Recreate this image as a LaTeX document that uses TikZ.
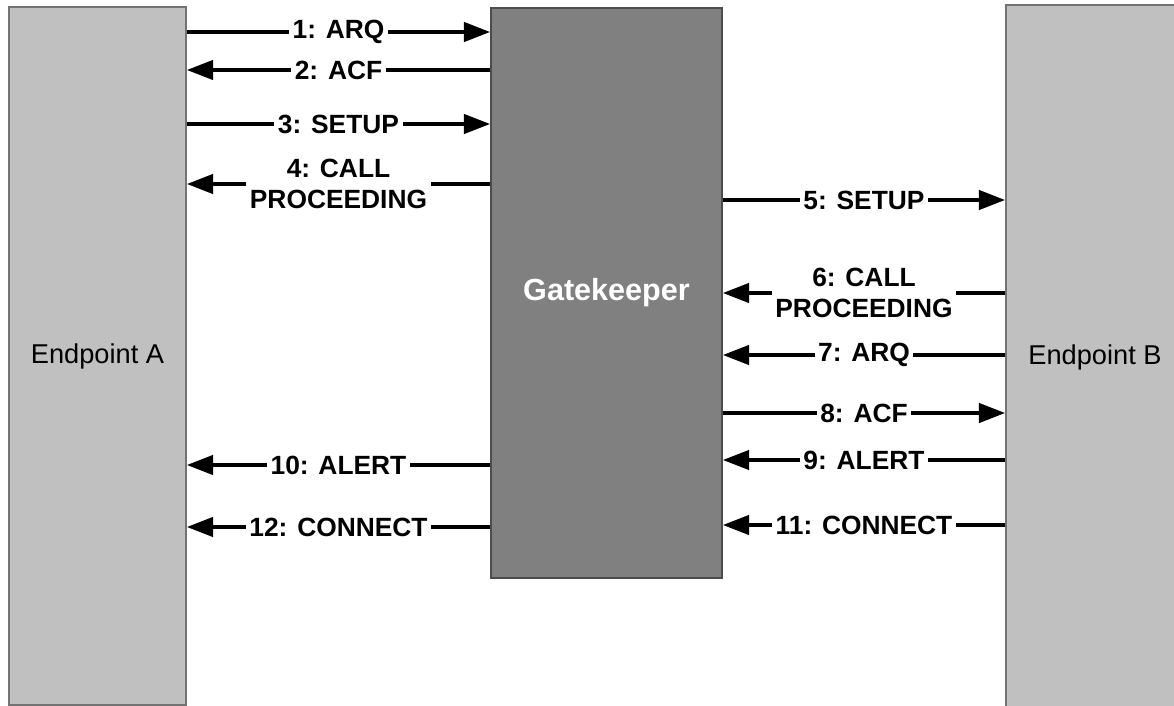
\documentclass[tikz,border=0pt]{standalone}
\usepackage{fontspec}
\setmainfont{Liberation Sans}
\usepackage{tikz}
\usetikzlibrary{arrows.meta}
\definecolor{epfill}{HTML}{C0C0C0}
\definecolor{gkfill}{HTML}{808080}
\tikzset{
	end node/.style={rectangle,draw=black!55,line width=1pt,fill=epfill,font=\fontsize{15.5}{18}\selectfont},
	gate node/.style={rectangle,draw=black!70,line width=1pt,fill=gkfill,text=white,font=\fontsize{17.4}{20}\selectfont\bfseries},
	msg/.style={line width=2.1pt,-{Triangle[length=15pt,width=11pt]}},
	lbl/.style={fill=white,inner sep=2pt,align=center,font=\fontsize{15}{17.5}\selectfont\bfseries}
}

\begin{document}
\begin{tikzpicture}[x=0.02cm,y=-0.02cm]
	\useasboundingbox (0,0) rectangle (1174,706);
	\node [end node,minimum width=3.54cm,minimum height=13.96cm] (epA) at (97.5,356) {Endpoint A};
	\node [end node,minimum width=3.56cm,minimum height=14.1cm] (epB) at (1095,357.5) {Endpoint B};
	\node [gate node,minimum width=4.62cm,minimum height=11.4cm] (gk) at (606.5,293) {Gatekeeper};
	% endpoint A <-> gatekeeper
	\draw [msg] (epA.east |- 0,32) -- node [lbl] {1: ARQ} (gk.west |- 0,32);
	\draw [msg] (gk.west |- 0,70) -- node [lbl] {2: ACF} (epA.east |- 0,70);
	\draw [msg] (epA.east |- 0,124) -- node [lbl] {3: SETUP} (gk.west |- 0,124);
	\draw [msg] (gk.west |- 0,184) -- node [lbl] {4: CALL\\PROCEEDING} (epA.east |- 0,184);
	\draw [msg] (gk.west |- 0,465) -- node [lbl] {10: ALERT} (epA.east |- 0,465);
	\draw [msg] (gk.west |- 0,527) -- node [lbl] {12: CONNECT} (epA.east |- 0,527);
	% gatekeeper <-> endpoint B
	\draw [msg] (gk.east |- 0,200) -- node [lbl] {5: SETUP} (epB.west |- 0,200);
	\draw [msg] (epB.west |- 0,293) -- node [lbl] {6: CALL\\PROCEEDING} (gk.east |- 0,293);
	\draw [msg] (epB.west |- 0,355) -- node [lbl] {7: ARQ} (gk.east |- 0,355);
	\draw [msg] (gk.east |- 0,413) -- node [lbl] {8: ACF} (epB.west |- 0,413);
	\draw [msg] (epB.west |- 0,460) -- node [lbl] {9: ALERT} (gk.east |- 0,460);
	\draw [msg] (epB.west |- 0,525) -- node [lbl] {11: CONNECT} (gk.east |- 0,525);
\end{tikzpicture}
\end{document}
